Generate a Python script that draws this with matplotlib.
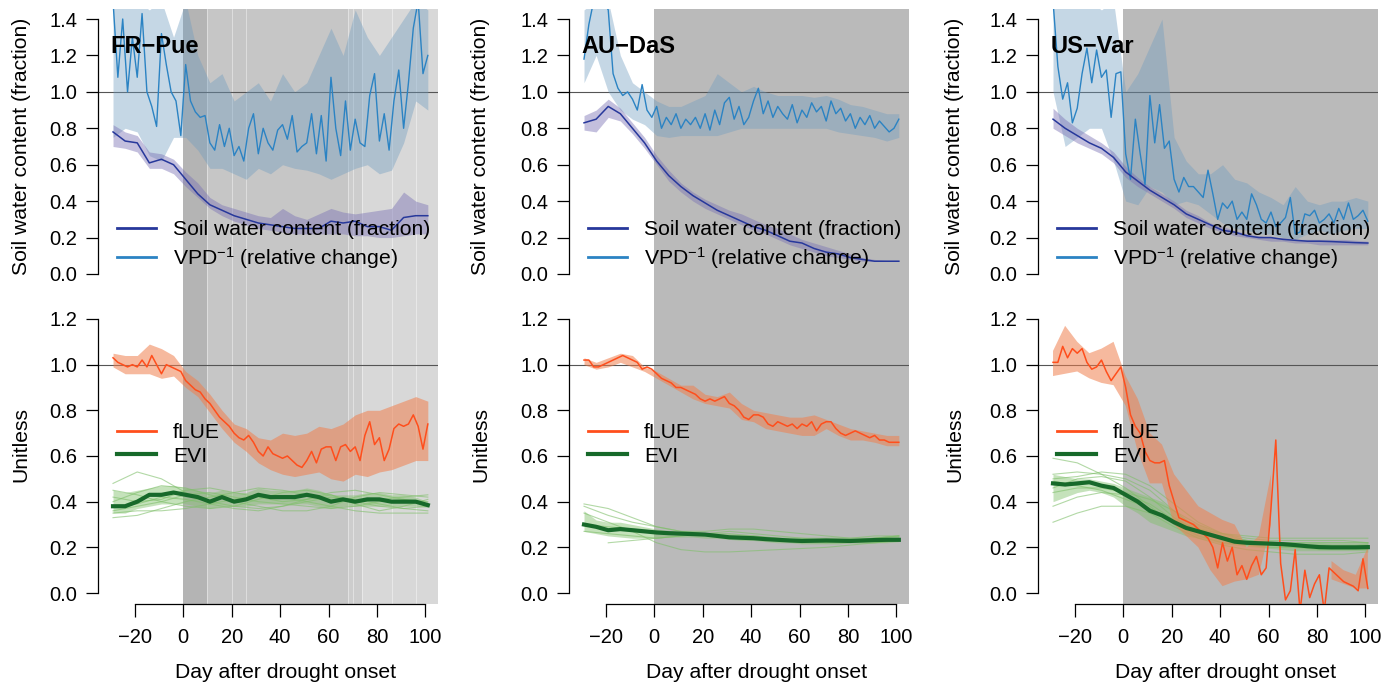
import numpy as np
import matplotlib
matplotlib.use("Agg")
import matplotlib.pyplot as plt
from matplotlib.lines import Line2D

plt.rcParams["font.family"] = ["Liberation Sans", "DejaVu Sans"]
plt.rcParams["mathtext.fontset"] = "custom"
plt.rcParams["mathtext.rm"] = "Liberation Sans"
plt.rcParams["mathtext.it"] = "Liberation Sans:italic"
plt.rcParams["mathtext.bf"] = "Liberation Sans:bold"

# ----------------------------------------------------------------------------
# Data
# ----------------------------------------------------------------------------
SITES = ["FR\u2212Pue", "AU\u2212DaS", "US\u2212Var"]

DAYS2 = np.arange(-29, 102, 2)     # noisy daily series, every 2nd day
DAYS5 = np.arange(-29, 102, 5)     # smooth series and bands
DAYS10 = np.arange(-29, 102, 10)   # single-year EVI curves

# --- FR-Pue ---
frpue_swc = [0.78, 0.73, 0.72, 0.61, 0.63, 0.60, 0.52, 0.44, 0.38, 0.35, 0.32, 0.30, 0.28, 0.27,
             0.26, 0.25, 0.25, 0.25, 0.29, 0.28, 0.29, 0.26, 0.26, 0.24, 0.31, 0.32, 0.32]
frpue_swc_lo = [0.70, 0.69, 0.67, 0.58, 0.58, 0.55, 0.48, 0.42, 0.36, 0.32, 0.29, 0.27, 0.25, 0.24,
                0.23, 0.22, 0.22, 0.22, 0.22, 0.22, 0.21, 0.21, 0.20, 0.20, 0.21, 0.22, 0.22]
frpue_swc_hi = [0.82, 0.78, 0.76, 0.67, 0.66, 0.63, 0.56, 0.50, 0.42, 0.38, 0.36, 0.34, 0.32, 0.31,
                0.36, 0.32, 0.30, 0.33, 0.36, 0.34, 0.33, 0.34, 0.35, 0.36, 0.45, 0.40, 0.38]
frpue_vpd = [1.50, 1.08, 1.40, 1.00, 1.30, 1.08, 1.43, 1.00, 0.92, 0.81, 1.32,
             1.15, 1.00, 0.95, 0.76, 1.15, 0.95, 0.89, 0.86, 0.87, 0.72, 0.68,
             0.82, 0.70, 0.80, 0.65, 0.70, 0.62, 0.80, 0.88, 0.66, 0.80, 0.72,
             0.68, 0.79, 0.82, 0.74, 0.87, 0.67, 0.70, 0.72, 0.88, 0.66, 0.87,
             0.62, 1.08, 0.80, 0.65, 0.95, 0.68, 0.85, 0.72, 0.70, 0.98, 1.10,
             0.73, 0.88, 0.68, 0.95, 1.12, 0.80, 1.05, 1.35, 1.50, 1.10, 1.20]
frpue_vpd_lo = [0.75, 0.80, 0.78, 0.65, 0.62, 0.75, 0.75, 0.68, 0.58, 0.58, 0.55, 0.52, 0.58, 0.55,
                0.60, 0.58, 0.57, 0.55, 0.52, 0.55, 0.58, 0.60, 0.55, 0.57, 0.72, 0.95, 0.90]
frpue_vpd_hi = [1.50, 1.50, 1.50, 1.45, 1.50, 1.30, 1.50, 1.20, 1.05, 1.10, 0.95, 1.00, 1.05, 0.95,
                1.10, 1.00, 1.05, 1.20, 1.35, 1.20, 1.45, 1.30, 1.20, 1.30, 1.40, 1.50, 1.45]
frpue_flue = [1.03, 1.01, 1.00, 0.99, 1.00, 0.99, 1.02, 0.99, 1.04, 1.00, 0.96,
              1.00, 0.99, 0.98, 0.97, 0.93, 0.91, 0.89, 0.88, 0.85, 0.83, 0.80,
              0.77, 0.75, 0.73, 0.70, 0.68, 0.67, 0.69, 0.66, 0.62, 0.60, 0.64,
              0.61, 0.60, 0.59, 0.60, 0.58, 0.56, 0.55, 0.58, 0.62, 0.57, 0.63,
              0.64, 0.64, 0.58, 0.64, 0.65, 0.62, 0.64, 0.58, 0.69, 0.75, 0.65,
              0.68, 0.58, 0.63, 0.72, 0.74, 0.73, 0.74, 0.78, 0.73, 0.63, 0.74]
frpue_flue_lo = [0.99, 0.96, 0.96, 0.96, 0.94, 0.95, 0.90, 0.86, 0.79, 0.72, 0.66, 0.62, 0.57, 0.54,
                 0.52, 0.51, 0.52, 0.53, 0.50, 0.49, 0.52, 0.51, 0.53, 0.54, 0.56, 0.58, 0.58]
frpue_flue_hi = [1.05, 1.04, 1.04, 1.09, 1.07, 1.04, 0.97, 0.93, 0.87, 0.80, 0.74, 0.72, 0.68, 0.67,
                 0.70, 0.69, 0.70, 0.73, 0.72, 0.74, 0.78, 0.80, 0.80, 0.82, 0.84, 0.86, 0.84]
frpue_evi = [0.38, 0.38, 0.40, 0.43, 0.43, 0.44, 0.43, 0.42, 0.40, 0.42, 0.40, 0.41, 0.43, 0.42,
             0.42, 0.42, 0.43, 0.42, 0.40, 0.41, 0.40, 0.41, 0.41, 0.40, 0.40, 0.40, 0.385]
frpue_evi_lo = [0.35, 0.35, 0.37, 0.38, 0.39, 0.39, 0.39, 0.38, 0.37, 0.38, 0.38, 0.38, 0.39, 0.39,
                0.39, 0.39, 0.39, 0.38, 0.37, 0.38, 0.38, 0.38, 0.38, 0.38, 0.38, 0.38, 0.375]
frpue_evi_hi = [0.45, 0.44, 0.45, 0.46, 0.47, 0.47, 0.46, 0.45, 0.44, 0.45, 0.44, 0.44, 0.46, 0.45,
                0.45, 0.45, 0.46, 0.45, 0.43, 0.43, 0.43, 0.44, 0.44, 0.43, 0.43, 0.42, 0.40]
frpue_evi_years = [
    [0.48, 0.53, 0.50, 0.44, 0.40, 0.38, 0.37, 0.38, 0.40, 0.42, 0.41, 0.39, 0.37, 0.36],
    [0.33, 0.34, 0.37, 0.40, 0.42, 0.44, 0.46, 0.45, 0.43, 0.41, 0.40, 0.41, 0.42, 0.43],
    [0.36, 0.38, 0.40, 0.43, 0.44, 0.42, 0.40, 0.39, 0.38, 0.37, 0.38, 0.40, 0.41, 0.40],
    [0.45, 0.43, 0.40, 0.38, 0.37, 0.38, 0.41, 0.44, 0.45, 0.43, 0.40, 0.38, 0.37, 0.38],
    [0.40, 0.44, 0.47, 0.46, 0.43, 0.40, 0.38, 0.36, 0.36, 0.38, 0.42, 0.44, 0.43, 0.42],
    [0.35, 0.36, 0.36, 0.37, 0.39, 0.41, 0.43, 0.42, 0.40, 0.38, 0.36, 0.35, 0.35, 0.35],
    [0.42, 0.40, 0.41, 0.45, 0.46, 0.44, 0.42, 0.40, 0.41, 0.44, 0.45, 0.43, 0.41, 0.39],
    [0.38, 0.39, 0.42, 0.41, 0.39, 0.37, 0.36, 0.38, 0.41, 0.43, 0.39, 0.36, 0.38, 0.41],
]
# FR-Pue drought periods differ in length -> lighter shading where fewer overlap
frpue_shade_edges = [0, 10, 68, 74, 105.2]
frpue_shade_grey = ["#b4b4b4", "#c6c6c6", "#cdcdcd", "#d8d8d8"]
frpue_event_ends = [10, 20, 26, 68, 70, 74, 86, 96]

# --- AU-DaS ---
audas_swc = [0.83, 0.85, 0.92, 0.88, 0.80, 0.72, 0.62, 0.54, 0.48, 0.43, 0.39, 0.35, 0.32, 0.29,
             0.26, 0.24, 0.21, 0.18, 0.17, 0.14, 0.12, 0.11, 0.09, 0.08, 0.07, 0.07, 0.07]
audas_swc_lo = [0.79, 0.78, 0.86, 0.84, 0.77, 0.69, 0.60, 0.51, 0.45, 0.40, 0.36, 0.33, 0.30, 0.27,
                0.24, 0.22, 0.19, 0.16, 0.14, 0.12, 0.10, 0.09, 0.08, 0.07, 0.07, 0.07, 0.07]
audas_swc_hi = [0.87, 0.90, 0.96, 0.91, 0.83, 0.75, 0.65, 0.57, 0.50, 0.45, 0.41, 0.38, 0.35, 0.33,
                0.30, 0.27, 0.25, 0.22, 0.19, 0.17, 0.15, 0.13, 0.11, 0.09, 0.08, 0.075, 0.075]
audas_vpd = [1.18, 1.37, 1.50, 1.50, 1.50, 1.45, 1.10, 1.02, 0.98, 1.00, 0.96,
             0.90, 1.04, 0.90, 0.86, 0.92, 0.80, 0.86, 0.82, 0.88, 0.80, 0.85,
             0.82, 0.86, 0.80, 0.88, 0.79, 0.90, 0.82, 0.94, 0.97, 0.85, 0.92,
             0.82, 0.86, 0.95, 1.02, 0.88, 0.95, 0.86, 0.92, 0.88, 0.85, 0.93,
             0.83, 0.90, 0.86, 0.94, 0.89, 0.92, 0.84, 0.95, 0.88, 0.91, 0.84,
             0.88, 0.80, 0.86, 0.82, 0.87, 0.80, 0.84, 0.81, 0.78, 0.80, 0.85]
audas_vpd_lo = [1.05, 1.20, 1.00, 0.90, 0.85, 0.82, 0.76, 0.75, 0.76, 0.76, 0.76, 0.76, 0.78, 0.80,
                0.80, 0.80, 0.80, 0.80, 0.80, 0.80, 0.80, 0.78, 0.77, 0.76, 0.75, 0.73, 0.75]
audas_vpd_hi = [1.45, 1.50, 1.50, 1.20, 1.05, 1.00, 0.95, 0.92, 0.92, 0.95, 0.98, 1.10, 1.05, 1.00,
                1.03, 1.00, 0.98, 0.98, 0.98, 0.97, 0.98, 0.96, 0.93, 0.92, 0.90, 0.88, 0.88]
audas_flue = [1.02, 1.02, 0.99, 0.99, 1.00, 1.01, 1.02, 1.03, 1.04, 1.03, 1.02,
              1.01, 0.98, 0.99, 0.98, 0.96, 0.94, 0.93, 0.92, 0.90, 0.90, 0.89,
              0.88, 0.87, 0.85, 0.84, 0.85, 0.84, 0.85, 0.86, 0.83, 0.82, 0.80,
              0.77, 0.76, 0.78, 0.78, 0.77, 0.74, 0.73, 0.75, 0.74, 0.73, 0.74,
              0.72, 0.74, 0.73, 0.75, 0.71, 0.74, 0.75, 0.75, 0.72, 0.70, 0.69,
              0.70, 0.71, 0.70, 0.69, 0.68, 0.69, 0.67, 0.67, 0.66, 0.66, 0.66]
audas_flue_lo = [1.00, 0.98, 0.99, 1.01, 0.99, 0.97, 0.94, 0.91, 0.88, 0.85, 0.83, 0.82, 0.81, 0.76,
                 0.75, 0.72, 0.71, 0.70, 0.69, 0.69, 0.72, 0.69, 0.67, 0.67, 0.66, 0.645, 0.645]
audas_flue_hi = [1.03, 1.01, 1.03, 1.05, 1.04, 0.99, 0.97, 0.94, 0.91, 0.91, 0.87, 0.86, 0.88, 0.83,
                 0.80, 0.79, 0.78, 0.77, 0.77, 0.78, 0.76, 0.74, 0.72, 0.71, 0.70, 0.69, 0.69]
audas_evi = [0.30, 0.29, 0.275, 0.28, 0.275, 0.27, 0.265, 0.262, 0.26, 0.258, 0.256, 0.25, 0.244,
             0.242, 0.24, 0.236, 0.233, 0.23, 0.228, 0.229, 0.23, 0.229, 0.228, 0.23, 0.232, 0.233, 0.233]
audas_evi_lo = [0.27, 0.26, 0.25, 0.245, 0.24, 0.24, 0.24, 0.245, 0.245, 0.245, 0.24, 0.24, 0.235,
                0.23, 0.23, 0.225, 0.22, 0.22, 0.215, 0.215, 0.215, 0.215, 0.22, 0.22, 0.22, 0.22, 0.225]
audas_evi_hi = [0.36, 0.32, 0.31, 0.31, 0.30, 0.29, 0.28, 0.275, 0.27, 0.27, 0.265, 0.26, 0.26,
                0.255, 0.25, 0.245, 0.24, 0.24, 0.24, 0.24, 0.24, 0.24, 0.24, 0.24, 0.245, 0.25, 0.25]
audas_evi_years = [
    [0.39, 0.37, 0.33, 0.29, 0.27, 0.26, 0.25, 0.25, 0.24, 0.24, 0.24, 0.24, 0.25, 0.25],
    [0.38, 0.34, 0.31, 0.29, 0.27, 0.27, 0.28, 0.28, 0.27, 0.26, 0.25, 0.24, 0.24, 0.25],
    [0.30, 0.29, 0.28, 0.27, 0.26, 0.26, 0.25, 0.24, 0.23, 0.22, 0.22, 0.23, 0.24, 0.25],
    [0.27, 0.26, 0.25, 0.24, 0.25, 0.26, 0.26, 0.25, 0.24, 0.23, 0.22, 0.22, 0.22, 0.23],
    [0.35, 0.31, 0.27, 0.22, 0.19, 0.18, 0.18, 0.185, 0.19, 0.195, 0.20, 0.21, 0.22, 0.23],
    [np.nan, 0.22, 0.23, 0.24, 0.25, 0.26, 0.27, 0.26, 0.25, 0.24, 0.23, 0.23, 0.24, 0.24],
]

# --- US-Var ---
usvar_swc = [0.85, 0.80, 0.76, 0.72, 0.69, 0.64, 0.56, 0.51, 0.46, 0.42, 0.38, 0.33, 0.30, 0.27,
             0.24, 0.23, 0.21, 0.20, 0.20, 0.19, 0.185, 0.18, 0.18, 0.178, 0.175, 0.172, 0.17]
usvar_swc_lo = [0.80, 0.76, 0.72, 0.69, 0.66, 0.61, 0.53, 0.48, 0.44, 0.40, 0.36, 0.31, 0.28, 0.25,
                0.23, 0.21, 0.20, 0.19, 0.18, 0.18, 0.17, 0.17, 0.16, 0.16, 0.16, 0.16, 0.16]
usvar_swc_hi = [0.91, 0.85, 0.80, 0.76, 0.72, 0.67, 0.59, 0.53, 0.48, 0.44, 0.40, 0.35, 0.32, 0.28,
                0.26, 0.24, 0.22, 0.21, 0.20, 0.20, 0.19, 0.19, 0.19, 0.19, 0.19, 0.185, 0.18]
usvar_vpd = [1.50, 1.14, 0.96, 1.05, 0.83, 0.91, 1.10, 1.24, 1.05, 1.23, 1.08,
             1.12, 0.86, 1.10, 1.11, 0.66, 0.52, 0.85, 0.66, 0.49, 0.98, 0.72,
             0.93, 0.69, 0.73, 0.52, 0.45, 0.53, 0.48, 0.48, 0.45, 0.42, 0.57,
             0.44, 0.30, 0.39, 0.36, 0.40, 0.30, 0.34, 0.30, 0.44, 0.38, 0.30,
             0.28, 0.34, 0.26, 0.28, 0.31, 0.42, 0.22, 0.23, 0.33, 0.32, 0.35,
             0.28, 0.30, 0.33, 0.28, 0.36, 0.30, 0.39, 0.30, 0.32, 0.35, 0.29]
usvar_vpd_lo = [1.00, 0.70, 0.75, 0.80, 0.80, 0.62, 0.40, 0.38, 0.48, 0.45, 0.38, 0.40, 0.38, 0.33,
                0.28, 0.25, 0.24, 0.22, 0.22, 0.20, 0.19, 0.22, 0.24, 0.22, 0.24, 0.25, 0.25]
usvar_vpd_hi = [1.50, 1.50, 1.50, 1.50, 1.45, 1.50, 1.00, 1.10, 1.25, 1.40, 0.75, 0.62, 0.55, 0.55,
                0.60, 0.52, 0.50, 0.45, 0.42, 0.38, 0.48, 0.40, 0.38, 0.40, 0.40, 0.42, 0.40]
usvar_flue = [1.01, 1.01, 1.08, 1.03, 1.07, 1.05, 1.07, 1.01, 0.98, 0.99, 1.02,
              0.97, 0.93, 0.96, 0.99, 0.90, 0.78, 0.73, 0.70, 0.62, 0.58, 0.57,
              0.57, 0.58, 0.47, 0.40, 0.33, 0.32, 0.31, 0.30, 0.28, 0.26, 0.24,
              0.20, 0.11, 0.22, 0.14, 0.20, 0.08, 0.12, 0.06, 0.12, 0.16, 0.08,
              0.11, 0.37, 0.67, 0.13, -0.03, 0.01, 0.19, -0.08, 0.10, -0.02, 0.04,
              0.08, -0.08, 0.11, 0.09, 0.07, 0.05, 0.04, 0.03, 0.01, 0.15, 0.02]
usvar_flue_lo = [0.95, 0.96, 0.97, 0.94, 0.92, 0.91, 0.82, 0.62, 0.48, 0.48, 0.30, 0.25, 0.20, 0.10,
                 0.03, 0.05, 0.06, 0.08, 0.30, np.nan, np.nan, np.nan, np.nan, 0.06, 0.04, 0.02, 0.02]
usvar_flue_hi = [1.06, 1.17, 1.10, 1.05, 1.07, 1.10, 0.95, 0.85, 0.70, 0.65, 0.52, 0.45, 0.38, 0.35,
                 0.32, 0.30, 0.20, 0.25, 0.52, np.nan, np.nan, np.nan, np.nan, 0.14, 0.10, 0.08, 0.20]
usvar_evi = [0.48, 0.475, 0.48, 0.485, 0.47, 0.46, 0.43, 0.40, 0.36, 0.34, 0.31, 0.285, 0.27, 0.255,
             0.24, 0.225, 0.22, 0.218, 0.216, 0.214, 0.21, 0.205, 0.201, 0.200, 0.200, 0.200, 0.201]
usvar_evi_lo = [0.40, 0.42, 0.44, 0.45, 0.44, 0.42, 0.38, 0.35, 0.31, 0.29, 0.27, 0.25, 0.24, 0.23,
                0.215, 0.21, 0.205, 0.20, 0.195, 0.19, 0.185, 0.185, 0.185, 0.185, 0.185, 0.185, 0.185]
usvar_evi_hi = [0.52, 0.51, 0.50, 0.50, 0.49, 0.48, 0.46, 0.44, 0.42, 0.40, 0.36, 0.32, 0.30, 0.28,
                0.26, 0.245, 0.235, 0.23, 0.23, 0.225, 0.22, 0.22, 0.22, 0.215, 0.215, 0.215, 0.22]
usvar_evi_years = [
    [0.59, 0.57, 0.52, 0.46, 0.38, 0.30, 0.25, 0.22, 0.21, 0.20, 0.20, 0.20, 0.20, 0.20],
    [0.52, 0.53, 0.52, 0.50, 0.45, 0.36, 0.28, 0.24, 0.22, 0.21, 0.21, 0.21, 0.21, 0.21],
    [0.50, 0.51, 0.53, 0.52, 0.47, 0.39, 0.31, 0.26, 0.23, 0.22, 0.22, 0.22, 0.22, 0.22],
    [0.46, 0.50, 0.51, 0.49, 0.42, 0.33, 0.27, 0.24, 0.23, 0.22, 0.22, 0.22, 0.22, 0.22],
    [0.38, 0.42, 0.44, 0.43, 0.39, 0.32, 0.27, 0.24, 0.22, 0.21, 0.20, 0.19, 0.19, 0.19],
    [0.31, 0.35, 0.38, 0.38, 0.35, 0.29, 0.24, 0.21, 0.19, 0.18, 0.17, 0.17, 0.17, 0.18],
    [0.49, 0.47, 0.45, 0.41, 0.37, 0.32, 0.28, 0.26, 0.25, 0.24, 0.24, 0.24, 0.24, 0.24],
    [0.44, 0.46, 0.46, 0.44, 0.41, 0.36, 0.30, 0.26, 0.24, 0.23, 0.23, 0.23, 0.23, 0.22],
]

# ----------------------------------------------------------------------------
# Style / layout
# ----------------------------------------------------------------------------
C_SWC, C_SWC_BAND = "#27389b", "#7b73b5"
C_VPD, C_VPD_BAND = "#2b83c3", "#6f9cc0"
C_FLUE, C_FLUE_BAND = "#ff4e1c", "#f0804f"
C_EVI, C_EVI_BAND = "#17692a", "#7fbf6a"
GREY = "#bababa"

FIG_W, FIG_H = 1400, 683
COL_LEFT = [98, 569, 1038]          # px, left edge of plot regions
AX_W = 340
TOP_PX = (9, 284)
BOT_PX = (284, 604)
YLABEL_PX = [21, 481, 955]
XLIM = (-35.2, 105.2)
YLIM_TOP = (-0.055, 1.455)
YLIM_BOT = (-0.048, 1.353)
FS_TICK = 14.5
FS_LAB = 15.2


def rect(left, top, bottom):
    return [left / FIG_W, 1 - bottom / FIG_H, AX_W / FIG_W, (bottom - top) / FIG_H]


def shade(ax, i):
    if i == 0:
        for a, b, g in zip(frpue_shade_edges[:-1], frpue_shade_edges[1:], frpue_shade_grey):
            ax.axvspan(a, b, color=g, lw=0, zorder=0)
        for e in frpue_event_ends:
            ax.axvline(e, color="white", lw=0.6, alpha=0.5, zorder=0.5)
    else:
        ax.axvspan(0, XLIM[1], color=GREY, lw=0, zorder=0)


def style_y(ax, ticks, col):
    ax.set_xlim(*XLIM)
    for s in ("top", "right"):
        ax.spines[s].set_visible(False)
    ax.spines["left"].set_bounds(ticks[0], ticks[-1])
    ax.spines["left"].set_linewidth(0.9)
    ax.set_yticks(ticks, [f"{t:.1f}" for t in ticks])
    ax.tick_params(axis="y", direction="out", length=9, width=0.9, pad=6, labelsize=FS_TICK)
    ax.axhline(1.0, color="#555555", lw=0.8, zorder=1)
    ax.yaxis.set_label_coords((YLABEL_PX[col] - COL_LEFT[col]) / AX_W, 0.5)


fig = plt.figure(figsize=(FIG_W / 100, FIG_H / 100), dpi=100)

swc_all = [frpue_swc, audas_swc, usvar_swc]
swc_lo_all = [frpue_swc_lo, audas_swc_lo, usvar_swc_lo]
swc_hi_all = [frpue_swc_hi, audas_swc_hi, usvar_swc_hi]
vpd_all = [frpue_vpd, audas_vpd, usvar_vpd]
vpd_lo_all = [frpue_vpd_lo, audas_vpd_lo, usvar_vpd_lo]
vpd_hi_all = [frpue_vpd_hi, audas_vpd_hi, usvar_vpd_hi]
flue_all = [frpue_flue, audas_flue, usvar_flue]
flue_lo_all = [frpue_flue_lo, audas_flue_lo, usvar_flue_lo]
flue_hi_all = [frpue_flue_hi, audas_flue_hi, usvar_flue_hi]
evi_all = [frpue_evi, audas_evi, usvar_evi]
evi_lo_all = [frpue_evi_lo, audas_evi_lo, usvar_evi_lo]
evi_hi_all = [frpue_evi_hi, audas_evi_hi, usvar_evi_hi]
evi_years_all = [frpue_evi_years, audas_evi_years, usvar_evi_years]

for i, site in enumerate(SITES):
    # --- top: soil water content and VPD^-1 ---
    ax = fig.add_axes(rect(COL_LEFT[i], *TOP_PX))
    shade(ax, i)
    ax.set_ylim(*YLIM_TOP)
    ax.fill_between(DAYS5, vpd_lo_all[i], vpd_hi_all[i], color=C_VPD_BAND, alpha=0.4, lw=0, zorder=2)
    ax.fill_between(DAYS5, swc_lo_all[i], swc_hi_all[i], color=C_SWC_BAND, alpha=0.45, lw=0, zorder=2)
    ax.plot(DAYS2, vpd_all[i], color=C_VPD, lw=1.0, zorder=3)
    ax.plot(DAYS5, swc_all[i], color=C_SWC, lw=1.1, zorder=3)
    ax.spines["bottom"].set_visible(False)
    ax.set_xticks([])
    style_y(ax, np.arange(0, 1.41, 0.2), i)
    ax.set_ylabel("Soil water content (fraction)", fontsize=FS_LAB, va="center")
    ax.text(-30, 1.25, site, fontsize=17, fontweight="bold", va="center", ha="left", zorder=5)
    handles = [Line2D([], [], color=C_SWC, lw=2), Line2D([], [], color=C_VPD, lw=2)]
    ax.legend(handles, ["Soil water content (fraction)", r"VPD$^{-1}$ (relative change)"],
              loc="center left", bbox_to_anchor=(19 / AX_W, 1 - (245.5 - TOP_PX[0]) / 275),
              frameon=False, fontsize=FS_LAB, handlelength=1.85, handletextpad=0.8,
              labelspacing=0.25, borderpad=0, borderaxespad=0)

    # --- bottom: fLUE and EVI ---
    ax = fig.add_axes(rect(COL_LEFT[i], *BOT_PX))
    shade(ax, i)
    ax.set_ylim(*YLIM_BOT)
    for yr in evi_years_all[i]:
        ax.plot(DAYS10, yr, color=C_EVI_BAND, lw=0.8, alpha=0.6, zorder=2)
    ax.fill_between(DAYS5, evi_lo_all[i], evi_hi_all[i], color=C_EVI_BAND, alpha=0.45, lw=0, zorder=2)
    ax.fill_between(DAYS5, flue_lo_all[i], flue_hi_all[i], color=C_FLUE_BAND, alpha=0.55, lw=0, zorder=2)
    ax.plot(DAYS2, flue_all[i], color=C_FLUE, lw=1.1, zorder=3)
    ax.plot(DAYS5, evi_all[i], color=C_EVI, lw=3, zorder=4)
    style_y(ax, np.arange(0, 1.21, 0.2), i)
    ax.yaxis.set_label_coords((YLABEL_PX[i] - COL_LEFT[i]) / AX_W, 0.46)
    ax.set_ylabel("Unitless", fontsize=FS_LAB, va="center")
    ax.spines["bottom"].set_bounds(-20, 100)
    ax.spines["bottom"].set_linewidth(0.9)
    ax.set_xticks(np.arange(-20, 101, 20))
    ax.tick_params(axis="x", direction="out", length=9, width=0.9, pad=8, labelsize=FS_TICK)
    ax.set_xlabel("Day after drought onset", fontsize=FS_LAB, va="center")
    ax.xaxis.set_label_coords((286 - 98) / AX_W, -68 / 320)
    handles = [Line2D([], [], color=C_FLUE, lw=2), Line2D([], [], color=C_EVI, lw=3)]
    ax.legend(handles, ["fLUE", "EVI"],
              loc="center left", bbox_to_anchor=(19 / AX_W, 1 - (444.5 - BOT_PX[0]) / 320),
              frameon=False, fontsize=FS_LAB, handlelength=1.85, handletextpad=0.8,
              labelspacing=0.2, borderpad=0, borderaxespad=0)

fig.savefig("out.png", dpi=100)
